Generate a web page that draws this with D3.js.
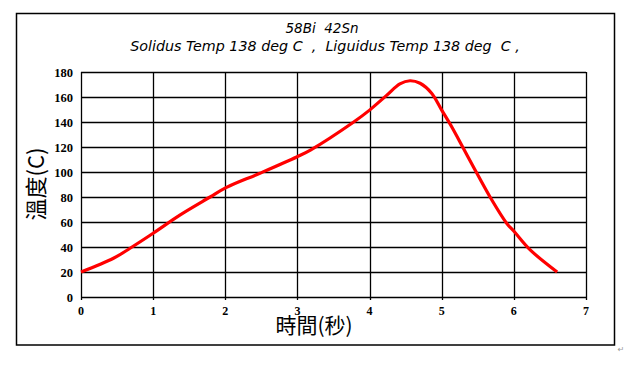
<!DOCTYPE html>
<html>
<head>
<meta charset="utf-8">
<script src="https://cdn.jsdelivr.net/npm/d3@7"></script>
<style>
  body { margin: 0; background: #fff; }
  svg { display: block; }
</style>
</head>
<body>
<script>
// time (s) and temperature (C)
const times = [0, 0.45, 0.68, 1.0, 1.37, 1.79, 2.01, 2.48, 2.99, 3.18, 3.78, 4.0, 4.24, 4.42, 4.56, 4.70, 4.86, 5.0, 5.14, 5.30, 5.44, 5.67, 5.90, 6.01, 6.23, 6.60];
const temps = [20, 31, 39, 51, 65.5, 80, 87.5, 99, 112, 117.5, 140, 149.5, 161.5, 170.5, 173, 171, 163, 149.5, 136, 119, 104, 80, 59, 52, 37.5, 20];
const xTicks = [0, 1, 2, 3, 4, 5, 6, 7];
const yTicks = [0, 20, 40, 60, 80, 100, 120, 140, 160, 180];
const titleLines = ["58Bi  42Sn", "Solidus Temp 138 deg C  ,  Liguidus Temp 138 deg  C ,"];

const W = 628, H = 365;
const plotL = 81, plotR = 586, plotT = 72, plotB = 297;

const svg = d3.select("body").append("svg")
  .attr("width", W)
  .attr("height", H);

// outer frame
svg.append("rect")
  .attr("x", 16.5).attr("y", 13.5)
  .attr("width", 598).attr("height", 331.5)
  .attr("fill", "none")
  .attr("stroke", "#000")
  .attr("stroke-width", 1.5);

const x = d3.scaleLinear().domain([0, 7]).range([plotL, plotR]);
const y = d3.scaleLinear().domain([0, 180]).range([plotB, plotT]);

// grid
svg.append("g")
  .selectAll("line")
  .data(yTicks)
  .join("line")
  .attr("x1", plotL).attr("x2", plotR)
  .attr("y1", d => Math.round(y(d)) + 0.5)
  .attr("y2", d => Math.round(y(d)) + 0.5)
  .attr("stroke", "#000")
  .attr("stroke-width", 1.3);

svg.append("g")
  .selectAll("line")
  .data(xTicks)
  .join("line")
  .attr("x1", d => Math.round(x(d)) + 0.5)
  .attr("x2", d => Math.round(x(d)) + 0.5)
  .attr("y1", plotT).attr("y2", plotB + 3)
  .attr("stroke", "#000")
  .attr("stroke-width", 1.3);

// tick labels
svg.append("g")
  .selectAll("text")
  .data(yTicks)
  .join("text")
  .attr("x", 73)
  .attr("y", d => y(d) + 4.5)
  .attr("text-anchor", "end")
  .style("font-family", "'Liberation Serif', serif")
  .style("font-weight", "bold")
  .style("font-size", "12.5px")
  .text(d => d);

svg.append("g")
  .selectAll("text")
  .data(xTicks)
  .join("text")
  .attr("x", d => x(d))
  .attr("y", 315)
  .attr("text-anchor", "middle")
  .style("font-family", "'Liberation Serif', serif")
  .style("font-weight", "bold")
  .style("font-size", "12px")
  .text(d => d);

// curve
const pts = times.map((t, i) => [t, temps[i]]);
const line = d3.line()
  .x(d => x(d[0]))
  .y(d => y(d[1]))
  .curve(d3.curveCatmullRom.alpha(0.5));

svg.append("path")
  .datum(pts)
  .attr("d", line)
  .attr("fill", "none")
  .attr("stroke", "#ff0000")
  .attr("stroke-width", 3.2)
  .attr("stroke-linejoin", "round");

// titles
svg.selectAll(".title")
  .data(titleLines)
  .join("text")
  .attr("class", "title")
  .attr("x", (d, i) => i == 0 ? 322 : 325)
  .attr("y", (d, i) => i == 0 ? 33 : 51)
  .attr("text-anchor", "middle")
  .style("font-family", "'DejaVu Sans', sans-serif")
  .style("font-style", "italic")
  .style("font-size", (d, i) => i == 0 ? "13.5px" : "14.3px")
  .style("white-space", "pre")
  .attr("xml:space", "preserve")
  .text(d => d);

// axis titles
svg.append("text")
  .attr("transform", "translate(44,184) rotate(-90)")
  .attr("text-anchor", "middle")
  .style("font-family", "'Noto Sans CJK TC', serif")
  .style("font-size", "22px")
  .text("溫度(C)");

svg.append("text")
  .attr("x", 314)
  .attr("y", 333)
  .attr("text-anchor", "middle")
  .style("font-family", "'Noto Sans CJK TC', serif")
  .style("font-size", "21px")
  .text("時間(秒)");

// paragraph mark from the source document
svg.append("text")
  .attr("x", 621)
  .attr("y", 352)
  .attr("text-anchor", "middle")
  .attr("fill", "#999")
  .style("font-family", "'DejaVu Sans', sans-serif")
  .style("font-size", "8px")
  .text("↵");
</script>
</body>
</html>
